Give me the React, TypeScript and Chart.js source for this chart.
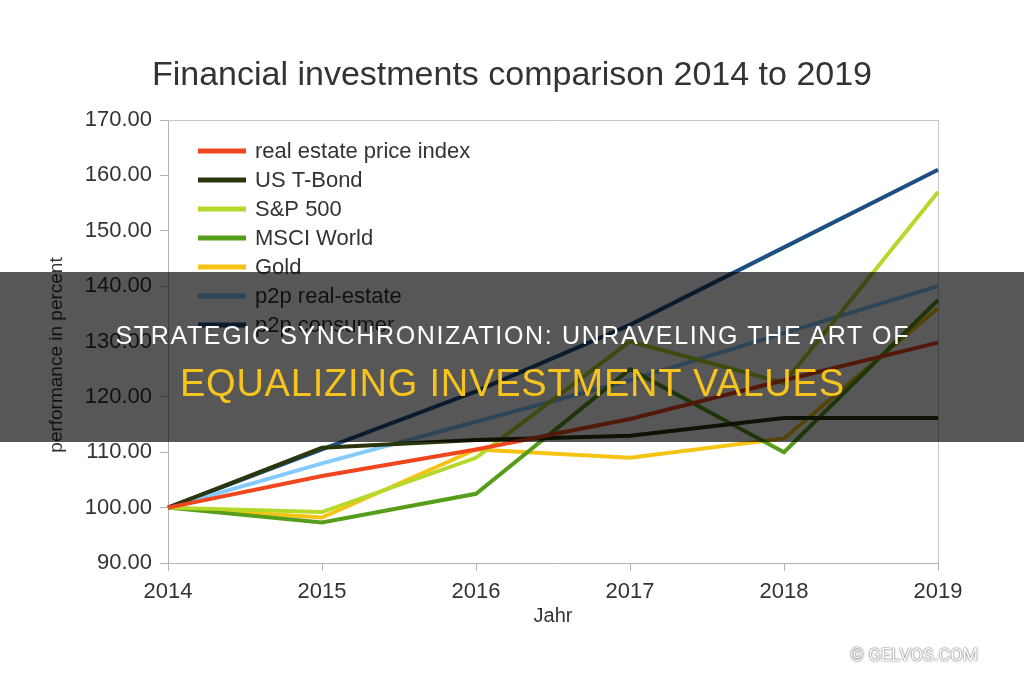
import React, { useEffect, useRef } from "react";
import { Chart, registerables } from "chart.js";

Chart.register(...registerables);

const years = ["2014", "2015", "2016", "2017", "2018", "2019"];
const seriesNames = [
  "real estate price index",
  "US T-Bond",
  "S&P 500",
  "MSCI World",
  "Gold",
  "p2p real-estate",
  "p2p consumer",
];
const realEstate = [100, 105.7, 110.5, 116, 123, 129.8];
const usTBond = [100, 110.8, 112.2, 113, 116.2, 116.2];
const sp500 = [100, 99.2, 109, 130, 122.5, 157];
const msciWorld = [100, 97.3, 102.5, 125, 110, 137.5];
const gold = [100, 98.2, 110.5, 109, 112.5, 136];
const p2pRealEstate = [100, 108, 115.5, 123, 131.5, 140];
const p2pConsumer = [100, 110.5, 121, 133, 147, 161];
const seriesColors = ["#f0461e", "#2a360c", "#b4d92a", "#579d1c", "#f5c314", "#83caff", "#1c4f84"];

const chartTitle = "Financial investments comparison 2014 to 2019";
const xTitle = "Jahr";
const yTitle = "performance in percent";
const yMin = 90;
const yMax = 170;
const yStep = 10;

const bannerLine1 = "STRATEGIC SYNCHRONIZATION: UNRAVELING THE ART OF";
const bannerLine2 = "EQUALIZING INVESTMENT VALUES";
const watermark = "© GELVOS.COM";

const FONT = "'Liberation Sans', Arial, sans-serif";
const TEXT = "#333333";
const AXIS = "#b3b3b3";

const frameAndLegend = {
  id: "frameAndLegend",
  beforeDatasetsDraw(chart: any) {
    const { ctx, chartArea } = chart;
    ctx.save();
    ctx.strokeStyle = "#c8c8c8";
    ctx.lineWidth = 1;
    ctx.beginPath();
    ctx.moveTo(chartArea.left, chartArea.top + 0.5);
    ctx.lineTo(chartArea.right + 0.5, chartArea.top + 0.5);
    ctx.lineTo(chartArea.right + 0.5, chartArea.bottom);
    ctx.stroke();
    ctx.restore();
  },
  afterDraw(chart: any) {
    const { ctx, chartArea } = chart;
    ctx.save();
    // legend inside the plot area
    const x0 = chartArea.left + 30;
    let y = chartArea.top + 31;
    ctx.font = `22px ${FONT}`;
    ctx.textBaseline = "middle";
    ctx.textAlign = "left";
    ctx.fillStyle = TEXT;
    chart.data.datasets.forEach((ds: any) => {
      ctx.strokeStyle = ds.borderColor;
      ctx.lineWidth = 5;
      ctx.beginPath();
      ctx.moveTo(x0, y);
      ctx.lineTo(x0 + 48, y);
      ctx.stroke();
      ctx.fillText(ds.label, x0 + 57, y + 1);
      y += 29;
    });
    // y-axis title
    ctx.translate(57, 355);
    ctx.rotate(-Math.PI / 2);
    ctx.textAlign = "center";
    ctx.font = `19px ${FONT}`;
    ctx.fillText(yTitle, 0, 0);
    ctx.restore();
  },
};

export default function App() {
  const canvasRef = useRef<HTMLCanvasElement | null>(null);

  useEffect(() => {
    const canvas = canvasRef.current;
    if (!canvas) return;
    const seriesData = [realEstate, usTBond, sp500, msciWorld, gold, p2pRealEstate, p2pConsumer];
    const chart = new Chart(canvas, {
      type: "line",
      data: {
        labels: years,
        datasets: seriesData.map((d, i) => ({
          label: seriesNames[i],
          data: d,
          borderColor: seriesColors[i],
          backgroundColor: seriesColors[i],
          borderWidth: 4,
          pointRadius: 0,
          tension: 0,
          fill: false,
        })),
      },
      options: {
        responsive: false,
        animation: false,
        devicePixelRatio: 1,
        layout: { padding: { left: 0, right: 86, top: 120, bottom: 0 } },
        plugins: {
          legend: { display: false },
          tooltip: { enabled: false },
          title: { display: false },
        },
        scales: {
          x: {
            type: "category",
            offset: false,
            afterFit: (s: any) => {
              s.height = 119;
            },
            grid: { drawOnChartArea: false, drawTicks: true, tickLength: 8, color: AXIS },
            border: { display: true, color: AXIS, width: 1 },
            ticks: { color: TEXT, font: { family: FONT, size: 22 }, padding: 8, maxRotation: 0 },
            title: {
              display: true,
              text: xTitle,
              color: TEXT,
              font: { family: FONT, size: 20 },
              padding: { top: 0, bottom: 54 },
            },
          },
          y: {
            min: yMin,
            max: yMax,
            afterFit: (s: any) => {
              s.width = 168;
            },
            grid: { drawOnChartArea: false, drawTicks: true, tickLength: 8, color: AXIS },
            border: { display: true, color: AXIS, width: 1 },
            ticks: {
              stepSize: yStep,
              color: TEXT,
              font: { family: FONT, size: 22 },
              padding: 8,
              callback: (v: any) => Number(v).toFixed(2),
            },
            title: { display: false, text: yTitle },
          },
        },
      },
      plugins: [frameAndLegend],
    });
    return () => chart.destroy();
  }, []);

  return (
    <div
      style={{
        position: "fixed",
        left: 0,
        top: 0,
        width: 1024,
        height: 682,
        background: "#ffffff",
        overflow: "hidden",
      }}
    >
      <canvas ref={canvasRef} width={1024} height={682} style={{ width: 1024, height: 682, display: "block" }} />
      <div
        style={{
          position: "absolute",
          left: 0,
          top: 53,
          width: 1024,
          height: 40,
          lineHeight: "40px",
          textAlign: "center",
          color: TEXT,
          fontFamily: FONT,
          fontSize: 34,
          whiteSpace: "nowrap",
        }}
      >
        {chartTitle}
      </div>
      <div
        style={{
          position: "absolute",
          left: 0,
          top: 272,
          width: 1024,
          height: 170,
          background: "rgba(0,0,0,0.66)",
        }}
      />
      <div
        style={{
          position: "absolute",
          left: 0,
          top: 315,
          width: 1024,
          height: 40,
          lineHeight: "40px",
          textAlign: "center",
          color: "#ffffff",
          fontFamily: FONT,
          fontSize: 25,
          letterSpacing: 1.65,
          paddingLeft: 1.65,
          boxSizing: "border-box",
          whiteSpace: "nowrap",
        }}
      >
        {bannerLine1}
      </div>
      <div
        style={{
          position: "absolute",
          left: 0,
          top: 359,
          width: 1024,
          height: 48,
          lineHeight: "48px",
          textAlign: "center",
          color: "#f6c41c",
          fontFamily: FONT,
          fontSize: 38,
          letterSpacing: 0.8,
          paddingLeft: 0.8,
          boxSizing: "border-box",
          whiteSpace: "nowrap",
        }}
      >
        {bannerLine2}
      </div>
      <div
        style={{
          position: "absolute",
          left: 850,
          top: 643,
          width: 140,
          height: 24,
          lineHeight: "24px",
          color: "#ffffff",
          fontFamily: "Roboto, sans-serif",
          fontSize: 18,
          whiteSpace: "nowrap",
          textShadow: "0 0 1px #555, 0 0 2px #777",
        }}
      >
        {watermark}
      </div>
    </div>
  );
}
